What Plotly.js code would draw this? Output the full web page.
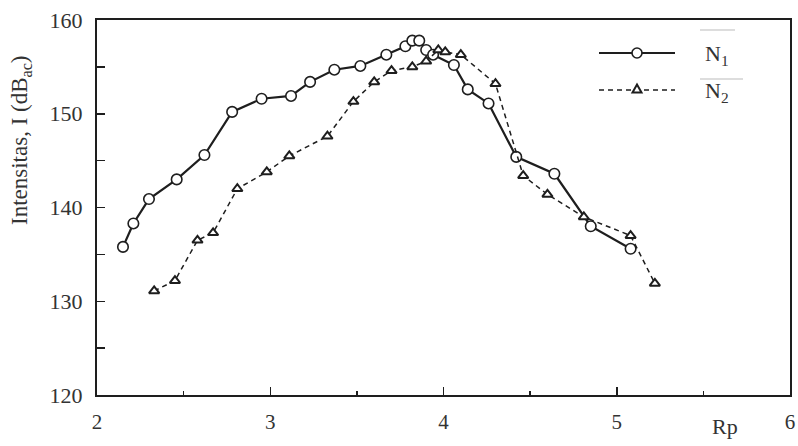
<!DOCTYPE html>
<html>
<head>
<meta charset="utf-8">
<script src="https://cdn.plot.ly/plotly-3.0.1.min.js"></script>
<style>html,body{margin:0;padding:0;background:#fff;}#chart{width:798px;height:446px;}</style>
</head>
<body>
<div id="chart"></div>
<script>
// Series N1 (solid, open circles)
const n1X = [2.15, 2.21, 2.30, 2.46, 2.62, 2.78, 2.95, 3.12, 3.23, 3.37, 3.52, 3.67, 3.78, 3.82, 3.86, 3.90, 3.94, 4.06, 4.14, 4.26, 4.42, 4.64, 4.85, 5.08];
const n1Y = [135.8, 138.3, 140.9, 143.0, 145.6, 150.2, 151.6, 151.9, 153.4, 154.7, 155.1, 156.3, 157.2, 157.8, 157.8, 156.8, 156.3, 155.2, 152.6, 151.1, 145.4, 143.6, 138.0, 135.6];
// Series N2 (dashed, open triangles)
const n2X = [2.33, 2.45, 2.58, 2.67, 2.81, 2.98, 3.11, 3.33, 3.48, 3.60, 3.70, 3.82, 3.90, 3.97, 4.01, 4.10, 4.30, 4.46, 4.60, 4.81, 5.08, 5.22];
const n2Y = [131.1, 132.2, 136.5, 137.3, 142.0, 143.8, 145.5, 147.6, 151.3, 153.4, 154.6, 155.0, 155.6, 156.8, 156.6, 156.3, 153.2, 143.4, 141.4, 139.0, 137.0, 131.9];
// Axis ticks
const xTicks = [2, 3, 4, 5, 6];
const yTicks = [120, 130, 140, 150, 160];
const seriesNames = ['N<sub>1</sub>', 'N<sub>2</sub>'];

const ink = '#1e1e1e';
const serif = 'Liberation Serif, Times New Roman, serif';

// plot-area helpers (pixel -> paper)
const PL = 97, PW = 693, PT = 20, PH = 375;
const px = v => (v - PL) / PW;
const py = v => 1 - (v - PT) / PH;

const traces = [
  {x: n1X, y: n1Y, name: seriesNames[0], type: 'scatter', mode: 'lines+markers',
   line: {color: ink, width: 2.2, dash: 'solid'},
   marker: {symbol: 'circle', size: 10.5, color: '#fff', line: {color: ink, width: 1.6}},
   showlegend: false, cliponaxis: false},
  {x: n2X, y: n2Y, name: seriesNames[1], type: 'scatter', mode: 'lines+markers',
   line: {color: ink, width: 1.5, dash: '5px,4px'},
   marker: {symbol: 'triangle-up', size: 9, color: '#fff', line: {color: ink, width: 2}},
   showlegend: false, cliponaxis: false}
];

const layout = {
  width: 798, height: 446,
  margin: {l: 97, r: 8, t: 20, b: 51},
  paper_bgcolor: '#fff', plot_bgcolor: '#fff',
  font: {family: serif, color: '#333', size: 21},
  xaxis: {
    range: [2, 6], tickvals: xTicks, ticktext: xTicks.map(String),
    ticks: 'inside', ticklen: 8, tickwidth: 1.5, tickcolor: ink,
    minor: {dtick: 0.5, ticks: 'inside', ticklen: 4, tickwidth: 1.5, tickcolor: ink},
    showline: true, linecolor: ink, linewidth: 2, mirror: true,
    showgrid: false, zeroline: false, tickfont: {family: serif, size: 21, color: '#333'},
    ticklabelstandoff: 7
  },
  yaxis: {
    range: [120, 160], tickvals: yTicks, ticktext: yTicks.map(String),
    ticks: 'inside', ticklen: 8, tickwidth: 1.5, tickcolor: ink,
    minor: {dtick: 5, ticks: 'inside', ticklen: 8, tickwidth: 1.5, tickcolor: ink},
    showline: true, linecolor: ink, linewidth: 2, mirror: true,
    showgrid: false, zeroline: false, tickfont: {family: serif, size: 22, color: '#333'},
    ticklabelstandoff: 8
  },
  shapes: [
    // legend sample lines
    {type: 'line', xref: 'paper', yref: 'paper', x0: px(599), x1: px(675), y0: py(53), y1: py(53), line: {color: ink, width: 2.2}},
    {type: 'line', xref: 'paper', yref: 'paper', x0: px(599), x1: px(675), y0: py(90), y1: py(90), line: {color: ink, width: 1.5, dash: '5px,4px'}},
    // legend sample markers
    {type: 'circle', xref: 'paper', yref: 'paper', xsizemode: 'pixel', ysizemode: 'pixel',
     xanchor: px(637), yanchor: py(53), x0: -5, x1: 5, y0: -5, y1: 5,
     fillcolor: '#fff', line: {color: ink, width: 1.6}},
    {type: 'path', xref: 'paper', yref: 'paper', xsizemode: 'pixel', ysizemode: 'pixel',
     xanchor: px(637), yanchor: py(89), path: 'M -4.5 -3.5 L 4.5 -3.5 L 0 4.5 Z',
     fillcolor: '#fff', line: {color: ink, width: 2}},
    // faint overlines above N
    {type: 'line', xref: 'paper', yref: 'paper', x0: px(700), x1: px(735), y0: py(30), y1: py(30), line: {color: '#bbb', width: 1}},
    {type: 'line', xref: 'paper', yref: 'paper', x0: px(700), x1: px(743), y0: py(79), y1: py(79), line: {color: '#bbb', width: 1}}
  ],
  annotations: [
    {xref: 'paper', yref: 'paper', x: px(703), y: py(55), xanchor: 'left', yanchor: 'middle', text: seriesNames[0], showarrow: false, font: {family: serif, size: 22, color: '#333'}},
    {xref: 'paper', yref: 'paper', x: px(703), y: py(92), xanchor: 'left', yanchor: 'middle', text: seriesNames[1], showarrow: false, font: {family: serif, size: 22, color: '#333'}},
    {xref: 'paper', yref: 'paper', x: px(21), y: py(140), xanchor: 'center', yanchor: 'middle', textangle: -90,
     text: 'Intensitas, I (dB<sub>ac</sub>)', showarrow: false, font: {family: serif, size: 23, color: '#333'}},
    {xref: 'paper', yref: 'paper', x: px(725), y: py(426), xanchor: 'center', yanchor: 'middle',
     text: 'Rp', showarrow: false, font: {family: serif, size: 22, color: '#333'}}
  ]
};

Plotly.newPlot('chart', traces, layout, {displayModeBar: false, staticPlot: true});
</script>
</body>
</html>
